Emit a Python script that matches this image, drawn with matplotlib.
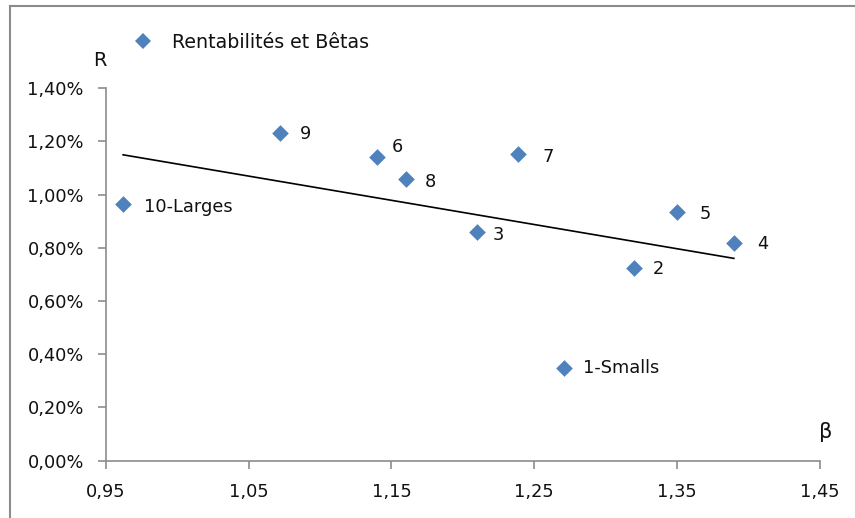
import numpy as np
import matplotlib
matplotlib.use("Agg")
import matplotlib.pyplot as plt
from matplotlib.lines import Line2D
from matplotlib.ticker import FuncFormatter

# Portfolio returns vs betas (decile portfolios)
labels = ["10-Larges", "9", "6", "8", "7", "3", "1-Smalls", "2", "5", "4"]
betas = [0.962, 1.072, 1.140, 1.160, 1.239, 1.210, 1.271, 1.320, 1.350, 1.390]
returns = [0.963, 1.231, 1.140, 1.058, 1.152, 0.858, 0.350, 0.723, 0.933, 0.817]  # in %

# label offsets (pixels) relative to each point
label_offsets = {
    "10-Larges": (21, -3), "9": (20, -1), "6": (15, 10), "8": (19, -3),
    "7": (24, -3), "3": (16, -3), "1-Smalls": (19, 0), "2": (19, -1),
    "5": (23, -2), "4": (23, -1),
}

x_ticks = [0.95, 1.05, 1.15, 1.25, 1.35, 1.45]
y_ticks = [0.0, 0.2, 0.4, 0.6, 0.8, 1.0, 1.2, 1.4]

plt.rcParams["font.family"] = ["DejaVu Sans"]

fig = plt.figure(figsize=(8.55, 5.18), dpi=100)
ax = fig.add_axes([0.124, 0.1106, 0.8345, 0.7194])

blue = "#4F81BD"
ax.scatter(betas, returns, marker="D", s=72, color=blue, zorder=3, linewidths=0)

# least-squares trend line across the observed beta range
b = np.array(betas)
r = np.array(returns)
slope, intercept = np.polyfit(b, r, 1)
xs = np.array([b.min(), b.max()])
ax.plot(xs, slope * xs + intercept, color="black", lw=1.2, zorder=2)

for name, x, y in zip(labels, betas, returns):
    dx, dy = label_offsets[name]
    ax.annotate(name, (x, y), xytext=(dx, dy), textcoords="offset pixels",
                ha="left", va="center", fontsize=12.8, color="#111111")

ax.set_xlim(0.95, 1.45)
ax.set_ylim(0.0, 1.4)
ax.set_xticks(x_ticks)
ax.set_yticks(y_ticks)
ax.xaxis.set_major_formatter(FuncFormatter(lambda v, p: f"{v:.2f}".replace(".", ",")))
ax.yaxis.set_major_formatter(FuncFormatter(lambda v, p: f"{v:.2f}%".replace(".", ",")))

for side in ("top", "right"):
    ax.spines[side].set_visible(False)
for side in ("left", "bottom"):
    ax.spines[side].set_color("#8c8c8c")
    ax.spines[side].set_linewidth(1.2)
ax.tick_params(axis="both", colors="#8c8c8c", length=6, width=1.2, labelsize=12.8,
               labelcolor="#111111")
ax.tick_params(axis="x", pad=10)
ax.tick_params(axis="y", pad=10)

# axis titles
fig.text(100 / 855, 1 - 60 / 518, "R", fontsize=14, ha="center", va="center", color="#111111")
fig.text(826 / 855, 1 - 432 / 518, "β", fontsize=15, ha="center", va="center", color="#111111")

# legend entry
fig.add_artist(Line2D([143 / 855], [1 - 41 / 518], marker="D", markersize=8.5,
                      color=blue, markeredgewidth=0, linestyle="none"))
fig.text(172 / 855, 1 - 42 / 518, "Rentabilités et Bêtas", fontsize=13.7,
         ha="left", va="center", color="#111111")

# chart frame
frame_kw = dict(color="#8c8c8c", lw=1.5, transform=fig.transFigure)
fig.add_artist(Line2D([9.5 / 855, 1.0], [1 - 5.5 / 518, 1 - 5.5 / 518], **frame_kw))
fig.add_artist(Line2D([9.5 / 855, 9.5 / 855], [0.0, 1 - 5.5 / 518], **frame_kw))

fig.savefig("out.png", dpi=100)
